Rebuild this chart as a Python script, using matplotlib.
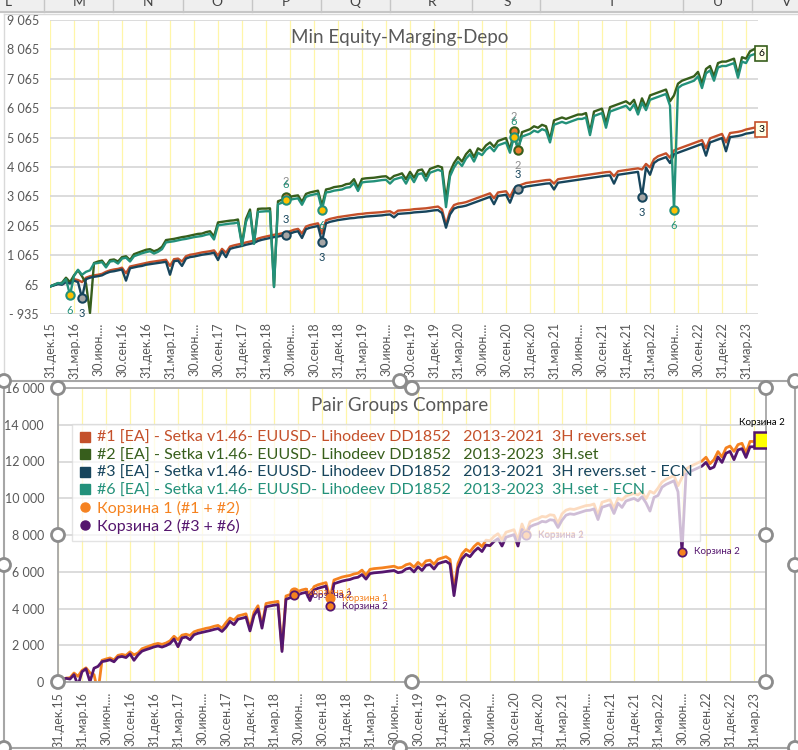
import numpy as np
import matplotlib.pyplot as plt
from matplotlib.lines import Line2D
from matplotlib.patches import Rectangle, Circle

plt.rcParams['font.family'] = ['Lato', 'Noto Sans', 'DejaVu Sans']

# quarter tick labels (every 6th point, semi-monthly data)
quarter_labels = ['31.дек.15', '31.мар.16', '30.июн....', '30.сен.16',
                  '31.дек.16', '31.мар.17', '30.июн....', '30.сен.17',
                  '31.дек.17', '31.мар.18', '30.июн....', '30.сен.18',
                  '31.дек.18', '31.мар.19', '30.июн....', '30.сен.19',
                  '31.дек.19', '31.мар.20', '30.июн....', '30.сен.20',
                  '31.дек.20', '31.мар.21', '30.июн....', '30.сен.21',
                  '31.дек.21', '31.мар.22', '30.июн....', '30.сен.22',
                  '31.дек.22', '31.мар.23']

# #1 [EA] 2013-2021 3H revers.set
s1 = [0, 60, 110, 100, 190, 160, 250, 220, 150, 300, 350, 380,
      400, 430, 500, 550, 580, 600, 640, 450, 680, 710, 740, 770,
      800, 830, 850, 870, 890, 910, 700, 930, 950, 850, 1030, 1080,
      1100, 1130, 1160, 1180, 1200, 1230, 1050, 1280, 1150, 1360, 1400, 1430,
      1460, 1500, 1530, 1560, 1630, 1670, 1700, 1730, 1760, 1780, 1810, 1840,
      1880, 1930, 1960, 1800, 2040, 2090, 2120, 2150, 1800, 2250, 2300, 2330,
      2360, 2380, 2400, 2420, 2440, 2460, 2470, 2490, 2500, 2510, 2520, 2530,
      2550, 2560, 2480, 2580, 2590, 2600, 2610, 2630, 2640, 2650, 2660, 2680,
      2700, 2720, 2620, 2100, 2560, 2770, 2820, 2840, 2870, 2920, 2970, 3020,
      3070, 3120, 3170, 3000, 3200, 3220, 3240, 3050, 3320, 3420, 3470, 3520,
      3540, 3560, 3580, 3600, 3620, 3630, 3500, 3650, 3670, 3690, 3710, 3730,
      3750, 3770, 3790, 3810, 3830, 3850, 3870, 3890, 3900, 3750, 3920, 3940,
      3960, 3980, 4000, 4020, 3980, 4170, 4050, 4330, 4430, 4480, 4530, 4380,
      4630, 4680, 4730, 4780, 4830, 4880, 4930, 4980, 4700, 5040, 5090, 5140,
      5190, 4900, 5220, 5240, 5260, 5290, 5340, 5370, 5400]

# #2 [EA] 2013-2023 3H.set
s2 = [0, 50, 100, 130, 300, 150, 380, 550, 350, 100, -900, 800,
      850, 880, 700, 900, 920, 850, 1000, 1030, 900, 1100, 1150, 1200,
      1250, 1270, 1200, 1250, 1350, 1580, 1600, 1620, 1650, 1680, 1700, 1730,
      1760, 1790, 1800, 1850, 1880, 1700, 2180, 2200, 2220, 2240, 2250, 2280,
      1450, 2300, 2620, 1500, 2640, 2650, 2650, 2660, 0, 2900, 2950, 3050,
      3050, 3080, 3100, 2880, 3150, 3200, 3230, 3260, 2750, 3300, 3330, 3380,
      3400, 3420, 3480, 3500, 3650, 3350, 3660, 3680, 3690, 3700, 3720, 3740,
      3750, 3650, 3760, 3800, 3850, 3650, 3900, 3700, 3950, 3980, 3750, 4000,
      4050, 4100, 4050, 2950, 3900, 4200, 4400, 4250, 4500, 4650, 4400, 4700,
      4620, 4800, 4900, 4750, 4950, 5000, 5050, 4650, 5280, 4630, 5250, 5300,
      5350, 5450, 5400, 5500, 5450, 5000, 5650, 5700, 5750, 5700, 5750, 5800,
      5850, 5850, 5900, 5250, 5950, 6000, 6050, 5550, 6100, 6150, 6200, 6250,
      6300, 6200, 6350, 5950, 6400, 6100, 6500, 6550, 6600, 6650, 6700, 6300,
      6500, 6900, 7000, 7050, 7100, 7150, 7300, 6900, 7400, 7500, 7150, 7600,
      7650, 7650, 7700, 7750, 7200, 7800, 7750, 8000, 8070]

# #3 [EA] 2013-2021 3H revers.set - ECN
s3 = [0, 40, 80, 60, 150, 100, 200, 150, -390, 250, 300, 330,
      350, 380, 450, 500, 520, 550, 580, 200, 620, 650, 680, 700,
      740, 760, 780, 800, 820, 840, 400, 860, 880, 700, 950, 1000,
      1020, 1050, 1080, 1100, 1120, 1150, 900, 1200, 1000, 1280, 1320, 1350,
      1380, 1420, 1450, 1480, 1550, 1590, 1620, 1650, 1680, 1700, 1730, 1760,
      1800, 1850, 1880, 1650, 1950, 2000, 2030, 2060, 1520, 2150, 2200, 2230,
      2260, 2280, 2300, 2320, 2330, 2350, 2360, 2380, 2390, 2400, 2410, 2420,
      2440, 2450, 2350, 2470, 2480, 2490, 2500, 2520, 2530, 2540, 2550, 2570,
      2590, 2600, 2500, 2000, 2450, 2650, 2700, 2720, 2750, 2800, 2850, 2900,
      2950, 3000, 3050, 2800, 3080, 3100, 3120, 2850, 3200, 3300, 3350, 3400,
      3420, 3440, 3460, 3480, 3500, 3510, 3300, 3530, 3550, 3570, 3590, 3610,
      3630, 3650, 3670, 3690, 3710, 3730, 3750, 3770, 3780, 3500, 3800, 3820,
      3840, 3860, 3880, 3900, 3050, 4050, 3800, 4200, 4300, 4350, 4400, 4200,
      4500, 4550, 4600, 4650, 4700, 4750, 4800, 4850, 4450, 4900, 4950, 5000,
      5050, 4600, 5080, 5100, 5120, 5150, 5200, 5220, 5250]

# #6 [EA] 2013-2023 3H.set - ECN
s6 = [0, 60, 120, 100, 250, -290, 360, 570, 400, 500, 550, 780,
      800, 830, 650, 850, 870, 780, 950, 980, 850, 1030, 1080, 1130,
      1170, 1200, 1120, 1180, 1270, 1500, 1520, 1540, 1570, 1600, 1620, 1650,
      1680, 1700, 1720, 1760, 1790, 1600, 2080, 2100, 2120, 2140, 2150, 2180,
      1400, 2200, 2520, 1450, 2540, 2550, 2560, 2560, -20, 2800, 2850, 2950,
      2950, 2980, 3000, 2780, 3050, 3100, 3130, 3160, 2610, 3200, 3220, 3260,
      3280, 3300, 3360, 3380, 3520, 3250, 3540, 3560, 3570, 3580, 3600, 3620,
      3630, 3500, 3640, 3680, 3720, 3500, 3770, 3550, 3820, 3850, 3600, 3870,
      3920, 3970, 3920, 2700, 3750, 4050, 4250, 4100, 4350, 4500, 4250, 4550,
      4470, 4650, 4750, 4600, 4800, 4850, 4900, 4550, 5100, 4700, 5100, 5150,
      5200, 5300, 5250, 5350, 5300, 4900, 5500, 5550, 5600, 5550, 5600, 5650,
      5700, 5700, 5750, 5150, 5800, 5850, 5900, 5400, 5950, 6000, 6050, 6100,
      6150, 6000, 6200, 5850, 6250, 6000, 6350, 6400, 6450, 6500, 6550, 6150,
      2600, 6750, 6850, 6900, 6950, 7000, 7150, 6750, 7250, 7350, 7000, 7450,
      7500, 7500, 7550, 7600, 7100, 7650, 7600, 7850, 7900]

legend_labels = [
    '#1 [EA] - Setka v1.46- EUUSD- Lihodeev DD1852   2013-2021  3H revers.set',
    '#2 [EA] - Setka v1.46- EUUSD- Lihodeev DD1852   2013-2023  3H.set',
    '#3 [EA] - Setka v1.46- EUUSD- Lihodeev DD1852   2013-2021  3H revers.set - ECN',
    '#6 [EA] - Setka v1.46- EUUSD- Lihodeev DD1852   2013-2023  3H.set - ECN',
    'Корзина 1 (#1 + #2)',
    'Корзина 2 (#3 + #6)']

# labelled points: (series, index, label, above?)
top_marks = [('s6', 5, '6', False), ('s3', 8, '3', False),
             ('s2', 59, '2', True), ('s6', 59, '6', True), ('s3', 59, '3', True),
             ('s6', 68, '6', False), ('s3', 68, '3', False),
             ('s2', 116, '2', True), ('s6', 116, '6', True), ('s2', 117, '2', False),
             ('s3', 117, '3', True), ('s3', 148, '3', False), ('s6', 156, '6', False)]
bottom_marks = [('b1', 59), ('b2', 59), ('b1', 68), ('b2', 68),
                ('b1', 117), ('b2', 117), ('b2', 156)]

c1, c2, c3, c6 = '#C4502A', '#375E1C', '#17455C', '#23917A'
k1, k2 = '#F5821F', '#55166E'
grey_txt = '#595959'

s1, s2, s3, s6 = map(np.array, (s1, s2, s3, s6))
b1 = s1 + s2   # Корзина 1 (#1 + #2)
b2 = s3 + s6   # Корзина 2 (#3 + #6)
x = np.arange(len(s1))
series = {'s1': s1, 's2': s2, 's3': s3, 's6': s6, 'b1': b1, 'b2': b2}

W, H = 798, 750
fig = plt.figure(figsize=(W / 100, H / 100), dpi=100)


def px_axes(l, t, r, b):
    return fig.add_axes([l / W, 1 - b / H, (r - l) / W, (b - t) / H])


def fmt(v):
    if v < 0:
        return '- ' + f'{-v:,.0f}'.replace(',', ' ')
    return f'{v:,.0f}'.replace(',', ' ')


def style(ax, yticks, xpad, ypad):
    ax.set_xlim(0, 177)
    xt = np.arange(0, 177, 6)
    ax.set_xticks(xt)
    ax.set_xticklabels(quarter_labels, rotation=90, fontsize=9, color=grey_txt)
    ax.set_yticks(yticks)
    ax.set_yticklabels([fmt(v) for v in yticks], fontsize=9, color=grey_txt)
    ax.set_ylim(yticks[0], yticks[-1])
    ax.tick_params(axis='x', length=0, pad=xpad)
    ax.tick_params(axis='y', length=0, pad=ypad)
    ax.set_axisbelow(True)
    ax.grid(axis='y', color='#D9D9D9', lw=1.3)
    for t in xt:
        ax.axvline(t, color='#FFF6A8', lw=0.9, zorder=0)


# ---------------- top chart ----------------
ax1 = px_axes(50, 20, 758, 314)
style(ax1, np.arange(-935, 9066, 1000), 6, 8)
for sp in ax1.spines.values():
    sp.set_visible(False)
ax1.plot(x, s1, color=c1, lw=1.7)
ax1.plot(x, s2, color=c2, lw=1.7)
ax1.plot(x, s3, color=c3, lw=1.7)
ax1.plot(x, s6, color=c6, lw=1.7)

mstyle = {'s2': ('#ED7D31', c2, '#8C8C8C'),
          's3': ('#A5A5A5', c3, c3),
          's6': ('#FFC000', c6, c6)}
for key, i, lab, up in top_marks:
    fc, ec, tc = mstyle[key]
    y = series[key][i]
    ax1.plot(i, y, 'o', ms=6, mfc=fc, mec=ec, mew=1.5, zorder=4)
    ax1.annotate(lab, (i, y), xytext=(0, 11 if up else -11), textcoords='offset points',
                 ha='center', va='center', fontsize=8, color=tc)

ax1.annotate('6', (x[-1], s2[-1]), xytext=(3, -3), textcoords='offset points',
             ha='left', va='center', fontsize=7.5,
             bbox=dict(boxstyle='square,pad=0.3', fc='#FFFFE8', ec=c2, lw=1.2))
ax1.annotate('3', (x[-1], s1[-1]), xytext=(3, -1), textcoords='offset points',
             ha='left', va='center', fontsize=7.5,
             bbox=dict(boxstyle='square,pad=0.3', fc='#FFFFE8', ec=c1, lw=1.2))

# ---------------- bottom chart ----------------
ax2 = px_axes(58, 388, 766, 682)
style(ax2, np.arange(0, 16001, 2000), 7, 10)
for sp in ax2.spines.values():
    sp.set_color('#A6A6A6')
    sp.set_linewidth(1.3)
ax2.plot(x, b1, color=k1, lw=2.0)
ax2.plot(x, b2, color=k2, lw=2.0)

for key, i in bottom_marks:
    y = series[key][i]
    col = k1 if key == 'b1' else k2
    ax2.plot(i, y, 'o', ms=6, mfc=k1, mec=k2 if key == 'b2' else k1, mew=1.3, zorder=4)
    ax2.annotate('Корзина 1' if key == 'b1' else 'Корзина 2', (i, y), xytext=(9, 0),
                 textcoords='offset points', ha='left', va='center', fontsize=7, color=col)

ax2.plot(x[-1], b2[-1], 's', ms=11, mfc='#FFFF00', mec=k2, mew=1.8, zorder=6)
ax2.annotate('Корзина 2', (x[-1], b2[-1]), xytext=(0, 13), textcoords='offset points',
             ha='center', va='center', fontsize=7, color='black', zorder=6)

handles = [Line2D([], [], ls='none', marker='s', ms=7.5, mfc=c, mec=c) for c in (c1, c2, c3, c6)]
handles += [Line2D([], [], ls='none', marker='o', ms=6.5, mfc=c, mec=c) for c in (k1, k2)]
leg = ax2.legend(handles, legend_labels, loc='upper left', bbox_to_anchor=(0.0198, 0.8776),
                 fontsize=11.5, fancybox=False, edgecolor='#D9D9D9', framealpha=0.72,
                 labelcolor='markerfacecolor', handlelength=0.7, handletextpad=0.4,
                 borderpad=0.45, labelspacing=0.2, borderaxespad=0)
leg.get_frame().set_linewidth(1.0)

fig.text(400 / W, 1 - 37 / H, 'Min Equity-Marging-Depo', ha='center', va='center',
         fontsize=13.5, color=grey_txt)
fig.text(400 / W, 1 - 405 / H, 'Pair Groups Compare', ha='center', va='center',
         fontsize=13.5, color=grey_txt)

# ---------------- spreadsheet frame / selection handles ----------------
ov = fig.add_axes([0, 0, 1, 1])
ov.set_xlim(0, W)
ov.set_ylim(H, 0)
ov.axis('off')
ov.set_zorder(10)

ov.add_patch(Rectangle((0, 0), W, 12, fc='#EFEFEF', ec='none'))
ov.plot([0, W], [12, 12], color='#C6C6C6', lw=1.5)
for sx in [44, 113, 183, 252, 321, 390, 472, 540, 683, 752]:
    ov.plot([sx, sx], [0, 12], color='#C6C6C6', lw=1)
for letter, lx in zip('LMNOPQRSTUV', [8, 79, 148, 217, 286, 355, 432, 507, 612, 718, 787]):
    ov.text(lx, 2, letter, ha='center', va='center', fontsize=10, color='#444444')

ov.plot([4, W], [14, 14], color='#D9D9D9', lw=1)
ov.plot([4, 4], [14, 376], color='#D9D9D9', lw=1)

ov.add_patch(Rectangle((4, 381), 791, 367, fc='none', ec='#A6A6A6', lw=1.5))
for hx, hy in [(4, 381), (400, 381), (795, 381), (4, 565), (795, 565),
               (4, 748), (400, 748), (795, 748),
               (58, 388), (412, 388), (766, 388), (58, 535), (766, 535),
               (58, 682), (412, 682), (766, 682)]:
    ov.add_patch(Circle((hx, hy), 6.5, fc='white', ec='#8C8C8C', lw=2, zorder=5))

fig.savefig('out.png', dpi=100)
